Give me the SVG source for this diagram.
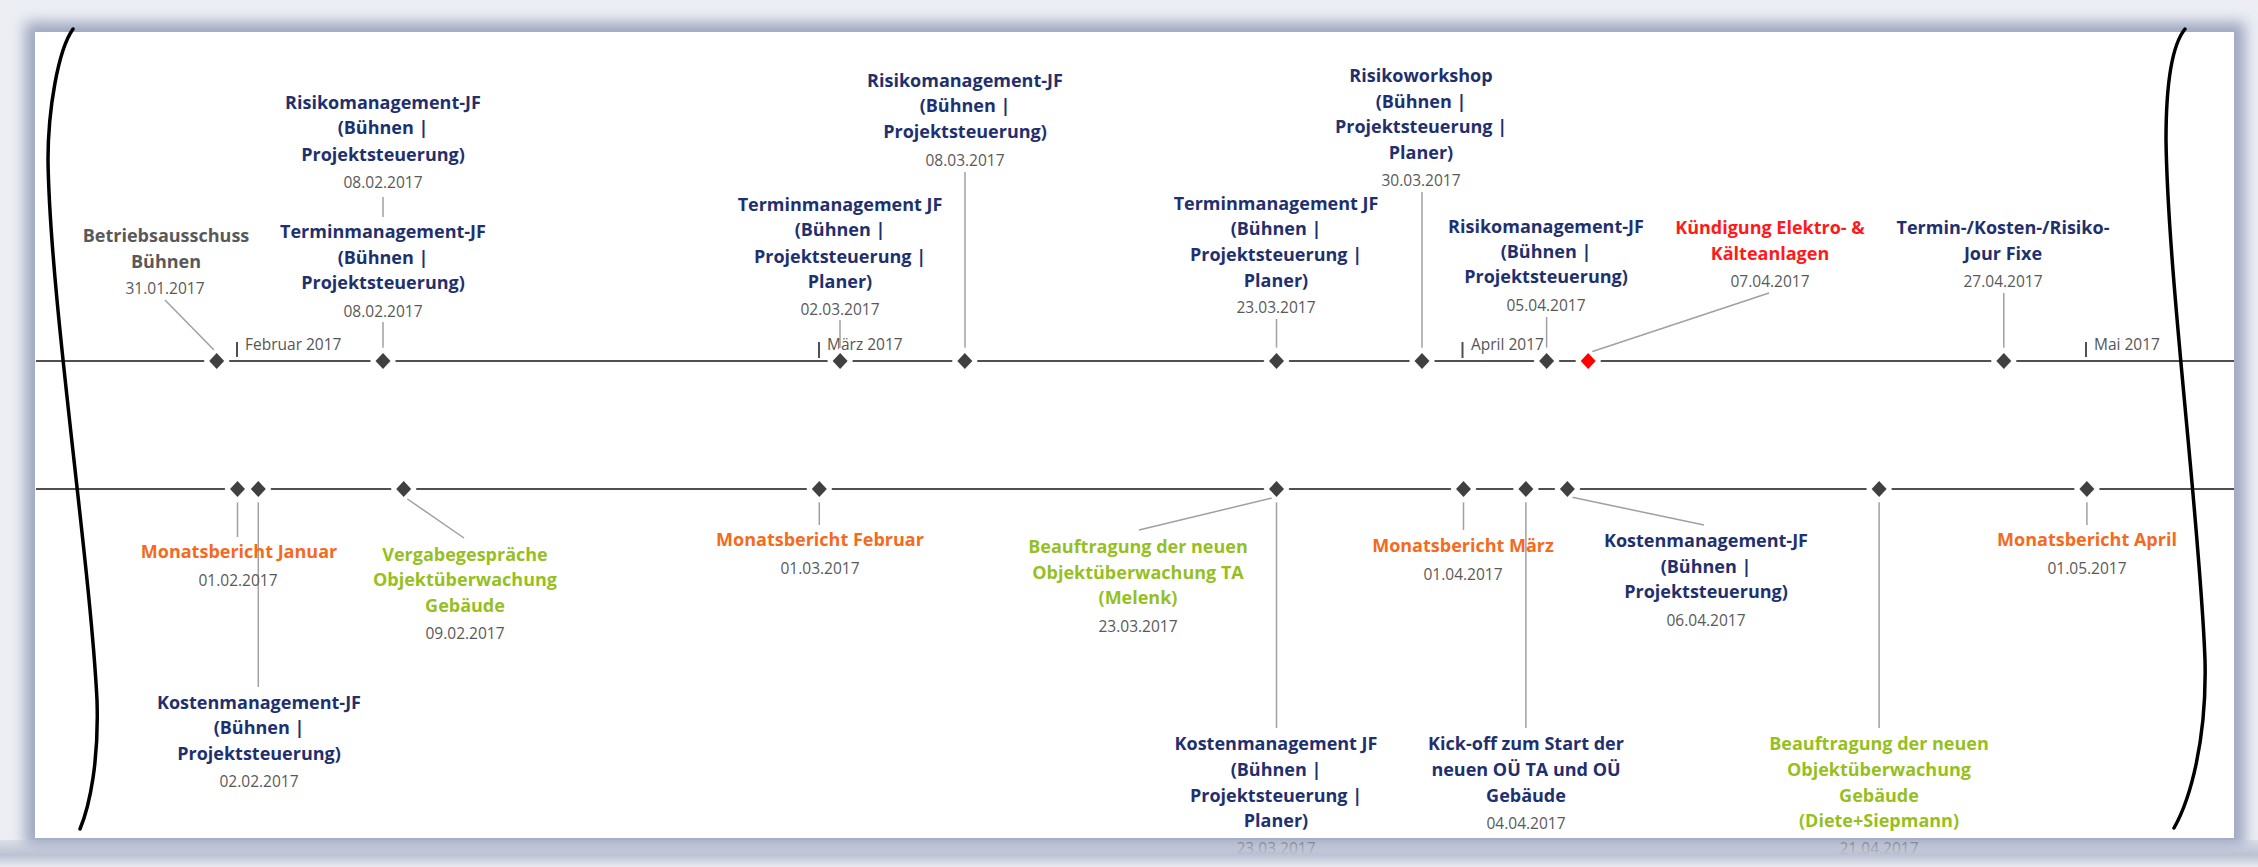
<svg xmlns="http://www.w3.org/2000/svg" xmlns:xlink="http://www.w3.org/1999/xlink" width="2258" height="867" viewBox="0 0 2258 867">
<defs>
<style>
.t{font-family:"Open Sans","Noto Sans",sans-serif;font-weight:700;font-size:18px;text-anchor:middle;fill:#1f306e}
.tg{fill:#595959}.to{fill:#f46a1e}.tl{fill:#96bf1f}.tr{fill:#ff1a1a}
.d{font-family:"Open Sans","Noto Sans",sans-serif;font-weight:400;font-size:15.5px;text-anchor:middle;fill:#595959}
.m{font-family:"Open Sans","Noto Sans",sans-serif;font-weight:400;font-size:15.5px;fill:#555}
.ax{stroke:#505050;stroke-width:2;fill:none}
.tk{stroke:#505050;stroke-width:2}
.c{stroke:#a0a0a0;stroke-width:1.5;fill:none}
.br{stroke:#000;stroke-width:3.5;fill:none;stroke-linecap:round}
</style>
<path id="dia" d="M0,-8 L7.5,0 L0,8 L-7.5,0Z" fill="#404040" stroke="#fff" stroke-width="8" paint-order="stroke"/>
<path id="diar" d="M0,-8 L7.5,0 L0,8 L-7.5,0Z" fill="#ff0000" stroke="#fff" stroke-width="8" paint-order="stroke"/>
<filter id="blur" x="-5%" y="-5%" width="110%" height="110%"><feGaussianBlur stdDeviation="7"/></filter>
<linearGradient id="bot" x1="0" y1="0" x2="0" y2="1">
<stop offset="0" stop-color="#bcc2d3" stop-opacity="0.35"/>
<stop offset="0.55" stop-color="#bcc2d3" stop-opacity="1"/>
<stop offset="1" stop-color="#e9ebf1"/>
</linearGradient>
</defs>
<rect x="0" y="0" width="2258" height="867" fill="#eceef4"/>
<rect x="25" y="22" width="2220" height="826" fill="#9ea7c1" filter="url(#blur)"/>
<rect x="35" y="32" width="2199" height="806" fill="#ffffff"/>

<g id="timeline">
<line class="ax" x1="36" y1="361" x2="2234" y2="361"/>
<line class="ax" x1="36" y1="489" x2="2234" y2="489"/>
<line class="tk" x1="237" y1="342" x2="237" y2="357"/>
<text class="m" x="245" y="350">Februar 2017</text>
<line class="tk" x1="819" y1="342" x2="819" y2="358"/>
<text class="m" x="827" y="350">März 2017</text>
<line class="tk" x1="1462.5" y1="342" x2="1462.5" y2="358"/>
<text class="m" x="1471" y="350">April 2017</text>
<line class="tk" x1="2086" y1="342" x2="2086" y2="357"/>
<text class="m" x="2094" y="350">Mai 2017</text>
</g>

<g id="connectors">
<line class="c" x1="165" y1="300" x2="214" y2="350"/>
<line class="c" x1="383" y1="197" x2="383" y2="217"/>
<line class="c" x1="383" y1="322" x2="383" y2="350"/>
<line class="c" x1="840" y1="320" x2="840" y2="350"/>
<line class="c" x1="965" y1="172" x2="965" y2="350"/>
<line class="c" x1="1276.5" y1="319" x2="1276.5" y2="350"/>
<line class="c" x1="1422" y1="192" x2="1422" y2="350"/>
<line class="c" x1="1546.6" y1="317" x2="1546.6" y2="350"/>
<line class="c" x1="1769" y1="293" x2="1591" y2="352"/>
<line class="c" x1="2003.8" y1="293" x2="2003.8" y2="350"/>
<line class="c" x1="237.5" y1="500" x2="237.5" y2="537"/>
<line class="c" x1="258.3" y1="500" x2="258.3" y2="687"/>
<line class="c" x1="406" y1="498" x2="464" y2="538"/>
<line class="c" x1="819.3" y1="500" x2="819.3" y2="525"/>
<line class="c" x1="1272" y1="498" x2="1139" y2="530"/>
<line class="c" x1="1276.5" y1="500" x2="1276.5" y2="728"/>
<line class="c" x1="1463.5" y1="500" x2="1463.5" y2="530"/>
<line class="c" x1="1525.9" y1="500" x2="1525.9" y2="728"/>
<line class="c" x1="1571" y1="497" x2="1704" y2="525"/>
<line class="c" x1="1879.1" y1="500" x2="1879.1" y2="728"/>
<line class="c" x1="2086.9" y1="500" x2="2086.9" y2="525"/>
</g>

<g id="ev-betriebsausschuss">
<use href="#dia" x="216.7" y="361"/>
<text class="t tg"><tspan x="166" y="242">Betriebsausschuss</tspan><tspan x="166" y="268">Bühnen</tspan></text>
<text class="d" x="165" y="293.5">31.01.2017</text>
</g>
<g id="ev-risiko-0802">
<text class="t"><tspan x="383" y="109">Risikomanagement-JF</tspan><tspan x="383" y="134">(Bühnen |</tspan><tspan x="383" y="161">Projektsteuerung)</tspan></text>
<text class="d" x="383" y="187.5">08.02.2017</text>
</g>
<g id="ev-termin-0802">
<use href="#dia" x="383" y="361"/>
<text class="t"><tspan x="383" y="238">Terminmanagement-JF</tspan><tspan x="383" y="264">(Bühnen |</tspan><tspan x="383" y="289">Projektsteuerung)</tspan></text>
<text class="d" x="383" y="316.5">08.02.2017</text>
</g>
<g id="ev-termin-0203">
<use href="#dia" x="840.1" y="361"/>
<text class="t"><tspan x="840" y="211">Terminmanagement JF</tspan><tspan x="840" y="236">(Bühnen |</tspan><tspan x="840" y="263">Projektsteuerung |</tspan><tspan x="840" y="288">Planer)</tspan></text>
<text class="d" x="840" y="314.5">02.03.2017</text>
</g>
<g id="ev-risiko-0803">
<use href="#dia" x="964.8" y="361"/>
<text class="t"><tspan x="965" y="87">Risikomanagement-JF</tspan><tspan x="965" y="112">(Bühnen |</tspan><tspan x="965" y="138">Projektsteuerung)</tspan></text>
<text class="d" x="965" y="165.5">08.03.2017</text>
</g>
<g id="ev-termin-2303">
<use href="#dia" x="1276.5" y="361"/>
<text class="t"><tspan x="1276" y="210">Terminmanagement JF</tspan><tspan x="1276" y="235">(Bühnen |</tspan><tspan x="1276" y="261">Projektsteuerung |</tspan><tspan x="1276" y="287">Planer)</tspan></text>
<text class="d" x="1276" y="312.5">23.03.2017</text>
</g>
<g id="ev-risikoworkshop">
<use href="#dia" x="1422" y="361"/>
<text class="t"><tspan x="1421" y="82">Risikoworkshop</tspan><tspan x="1421" y="108">(Bühnen |</tspan><tspan x="1421" y="133">Projektsteuerung |</tspan><tspan x="1421" y="159">Planer)</tspan></text>
<text class="d" x="1421" y="185.5">30.03.2017</text>
</g>
<g id="ev-risiko-0504">
<use href="#dia" x="1546.6" y="361"/>
<text class="t"><tspan x="1546" y="233">Risikomanagement-JF</tspan><tspan x="1546" y="258">(Bühnen |</tspan><tspan x="1546" y="283">Projektsteuerung)</tspan></text>
<text class="d" x="1546" y="310.5">05.04.2017</text>
</g>
<g id="ev-kuendigung">
<use href="#diar" x="1588.2" y="361"/>
<text class="t tr"><tspan x="1770" y="234">Kündigung Elektro- &amp;</tspan><tspan x="1770" y="260">Kälteanlagen</tspan></text>
<text class="d" x="1770" y="286.5">07.04.2017</text>
</g>
<g id="ev-jourfixe">
<use href="#dia" x="2003.8" y="361"/>
<text class="t"><tspan x="2003" y="234">Termin-/Kosten-/Risiko-</tspan><tspan x="2003" y="260">Jour Fixe</tspan></text>
<text class="d" x="2003" y="286.5">27.04.2017</text>
</g>

<g id="ev-monat-januar">
<use href="#dia" x="237.5" y="489"/>
<text class="t to" x="239" y="558">Monatsbericht Januar</text>
<text class="d" x="238" y="585.5">01.02.2017</text>
</g>
<g id="ev-kosten-0202">
<use href="#dia" x="258.3" y="489"/>
<text class="t"><tspan x="259" y="709">Kostenmanagement-JF</tspan><tspan x="259" y="734">(Bühnen |</tspan><tspan x="259" y="760">Projektsteuerung)</tspan></text>
<text class="d" x="259" y="786.5">02.02.2017</text>
</g>
<g id="ev-vergabe">
<use href="#dia" x="403.7" y="489"/>
<text class="t tl"><tspan x="465" y="561">Vergabegespräche</tspan><tspan x="465" y="586">Objektüberwachung</tspan><tspan x="465" y="612">Gebäude</tspan></text>
<text class="d" x="465" y="638.5">09.02.2017</text>
</g>
<g id="ev-monat-februar">
<use href="#dia" x="819.3" y="489"/>
<text class="t to" x="820" y="546">Monatsbericht Februar</text>
<text class="d" x="820" y="573.5">01.03.2017</text>
</g>
<g id="ev-beauftragung-ta">
<text class="t tl"><tspan x="1138" y="553">Beauftragung der neuen</tspan><tspan x="1138" y="579">Objektüberwachung TA</tspan><tspan x="1138" y="604">(Melenk)</tspan></text>
<text class="d" x="1138" y="631.5">23.03.2017</text>
</g>
<g id="ev-kosten-2303">
<use href="#dia" x="1276.5" y="489"/>
<text class="t"><tspan x="1276" y="750">Kostenmanagement JF</tspan><tspan x="1276" y="776">(Bühnen |</tspan><tspan x="1276" y="802">Projektsteuerung |</tspan><tspan x="1276" y="827">Planer)</tspan></text>
<text class="d" x="1276" y="853.5">23.03.2017</text>
</g>
<g id="ev-monat-maerz">
<use href="#dia" x="1463.5" y="489"/>
<text class="t to" x="1463" y="552">Monatsbericht März</text>
<text class="d" x="1463" y="579.5">01.04.2017</text>
</g>
<g id="ev-kickoff">
<use href="#dia" x="1525.9" y="489"/>
<text class="t"><tspan x="1526" y="750">Kick-off zum Start der</tspan><tspan x="1526" y="776">neuen OÜ TA und OÜ</tspan><tspan x="1526" y="802">Gebäude</tspan></text>
<text class="d" x="1526" y="828.5">04.04.2017</text>
</g>
<g id="ev-kosten-0604">
<use href="#dia" x="1567.4" y="489"/>
<text class="t"><tspan x="1706" y="547">Kostenmanagement-JF</tspan><tspan x="1706" y="573">(Bühnen |</tspan><tspan x="1706" y="598">Projektsteuerung)</tspan></text>
<text class="d" x="1706" y="625.5">06.04.2017</text>
</g>
<g id="ev-beauftragung-gebaeude">
<use href="#dia" x="1879.1" y="489"/>
<text class="t tl"><tspan x="1879" y="750">Beauftragung der neuen</tspan><tspan x="1879" y="776">Objektüberwachung</tspan><tspan x="1879" y="802">Gebäude</tspan><tspan x="1879" y="827">(Diete+Siepmann)</tspan></text>
<text class="d" x="1879" y="853.5">21.04.2017</text>
</g>
<g id="ev-monat-april">
<use href="#dia" x="2086.9" y="489"/>
<text class="t to" x="2087" y="546">Monatsbericht April</text>
<text class="d" x="2087" y="573.5">01.05.2017</text>
</g>

<g id="brackets">
<path class="br" d="M73,29 C58,50 48,110 48,160 C50,300 90,560 97,700 C99,760 90,805 80,829"/>
<path class="br" d="M2185,29 C2172,45 2166,80 2166,140 C2168,280 2200,520 2205,660 C2207,740 2190,800 2174,828"/>
</g>
<rect x="0" y="840" width="2258" height="27" fill="url(#bot)"/>
</svg>
